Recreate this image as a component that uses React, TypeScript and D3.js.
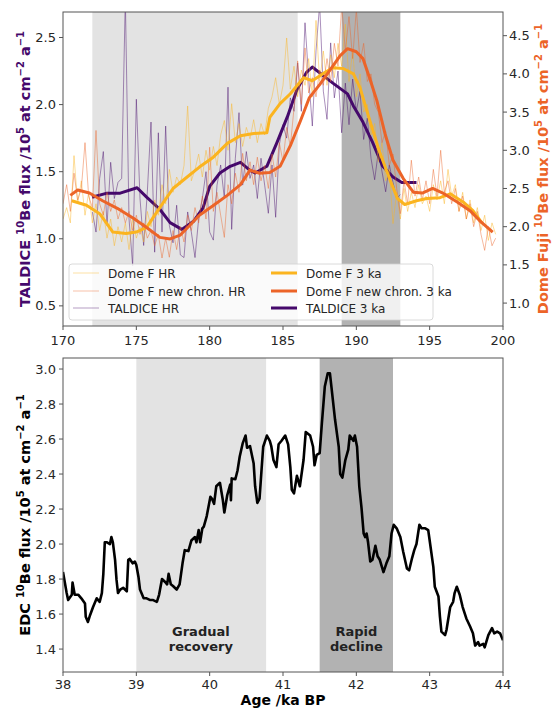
import React from "react";
import * as d3 from "d3";

// ---------- Top panel data ----------
const TOP_X_DOMAIN = [170, 200];
const LEFT_DOMAIN = [0.35, 2.69];
const RIGHT_DOMAIN = [0.7, 4.81];
const TOP_X_TICKS = [170, 175, 180, 185, 190, 195, 200];
const LEFT_TICKS = [0.5, 1.0, 1.5, 2.0, 2.5];
const RIGHT_TICKS = [1.0, 1.5, 2.0, 2.5, 3.0, 3.5, 4.0, 4.5];
const TOP_LIGHT_BAND = [172, 186];
const TOP_DARK_BAND = [189, 193];

const HR_STEP = 0.25;
const TALDICE_HR_START = 172;
const taldiceHR = [1.20,1.05,1.45,1.65,1.10,1.57,1.30,1.42,1.45,2.80,1.15,0.80,2.04,1.30,0.95,1.35,1.87,0.90,1.79,1.05,1.84,1.10,0.97,1.25,0.88,0.86,1.20,1.05,0.86,1.15,1.30,1.50,1.05,0.99,1.40,1.55,1.30,2.13,1.07,1.60,1.94,1.40,1.65,1.45,1.55,1.30,1.60,1.40,1.19,1.55,1.16,1.70,1.85,1.75,2.05,1.95,2.31,1.95,2.61,2.20,1.84,2.40,2.75,2.10,1.89,2.46,2.05,2.25,1.79,2.16,1.85,2.19,1.95,2.10,1.74,1.90,1.60,1.44,1.65,1.50,1.35,1.55,1.42,1.30,1.33];

const DOMEF_HR_START = 170;
const domeFHR = [2.10,2.25,2.05,2.93,2.30,2.60,2.15,2.45,2.05,2.30,1.95,2.20,1.85,2.10,1.75,2.00,1.80,2.05,1.70,2.10,1.85,2.00,1.80,2.20,2.00,2.35,2.15,2.55,2.30,2.75,2.45,2.65,2.55,2.80,3.58,2.60,2.75,2.95,2.65,3.00,2.74,3.05,2.80,3.20,3.39,3.00,3.61,3.10,3.35,3.05,3.30,3.15,3.40,3.10,3.35,3.20,3.55,3.70,3.95,3.60,3.85,4.47,3.80,4.10,3.70,4.05,3.85,4.20,3.70,4.70,3.90,4.30,3.85,4.25,3.95,4.40,4.10,4.65,3.90,4.30,3.70,4.00,3.50,3.60,3.20,3.35,2.85,3.10,2.60,2.75,2.04,2.45,2.10,2.50,2.20,2.45,2.25,2.55,2.30,2.40,2.20,2.55,2.35,2.60,2.30,2.75,2.40,2.55,2.20,2.45,2.10,2.35,2.05,2.25,1.95,2.15,1.82,2.05,1.90];

const NEWCHRON_HR_START = 170;
const newChronHR = [2.30,2.55,2.20,2.70,2.35,2.50,3.10,2.40,2.25,3.26,2.30,2.15,2.45,2.20,2.35,2.10,2.25,2.05,2.20,1.95,2.15,1.90,2.05,1.85,1.95,1.75,1.90,1.59,1.85,1.60,1.95,1.70,2.00,1.80,2.15,1.95,2.25,2.05,2.40,2.10,3.04,2.20,2.45,2.15,1.86,2.55,2.30,2.70,2.45,2.96,2.60,2.85,2.55,2.91,2.60,2.80,2.50,2.95,2.65,3.10,2.85,3.30,3.05,3.55,4.17,3.60,4.34,3.75,3.95,3.70,4.05,3.85,4.20,3.90,4.40,4.10,4.90,4.30,4.75,4.20,4.85,4.15,4.40,3.90,4.00,3.60,3.50,3.10,3.25,2.80,2.95,2.50,2.17,2.60,2.30,2.87,2.40,2.65,2.35,2.60,2.30,2.75,2.40,3.00,2.45,2.60,2.30,2.50,2.20,2.40,2.10,2.30,2.00,2.20,1.90,1.69,2.00,1.75,1.85];

// 3 ka smoothed series
const domeF3kaAge = [170.6,171.6,172.5,173.4,174.3,175.0,175.7,176.6,177.5,178.4,179.3,180.25,181.2,182.1,183.0,183.9,184.1,184.8,185.5,186.4,187.0,187.7,188.4,189.1,189.8,190.25,190.9,191.6,192.3,192.8,193.3,194.1,194.8,195.7,196.4,197.3,197.95,198.6];
const domeF3ka = [2.34,2.28,2.17,1.93,1.91,1.93,1.99,2.25,2.50,2.64,2.78,2.91,3.09,3.19,3.22,3.23,3.43,3.61,3.74,3.95,3.91,4.00,4.08,4.07,4.00,3.82,3.40,2.97,2.61,2.37,2.29,2.34,2.37,2.38,2.43,2.32,2.21,2.04];

const newChron3kaAge = [170.5,171.0,171.8,172.7,173.7,174.8,175.7,176.6,177.3,178.0,178.5,179.3,180.2,181.2,182.1,182.75,183.4,184.1,184.8,185.5,186.2,186.8,187.5,188.2,188.9,189.4,190.0,190.45,190.9,191.4,191.95,192.5,193.2,193.9,194.5,195.2,195.9,196.9,197.75,198.4,199.3];
const newChron3ka = [2.41,2.48,2.44,2.34,2.24,2.11,1.99,1.86,1.84,1.89,1.99,2.15,2.27,2.41,2.55,2.74,2.70,2.71,2.79,3.06,3.39,3.69,3.86,4.05,4.24,4.33,4.29,4.20,3.95,3.65,3.22,2.87,2.63,2.45,2.44,2.50,2.44,2.32,2.21,2.08,1.93];

const taldice3kaAge = [171.98,173.0,173.9,175.05,175.7,176.6,177.3,178.1,178.9,179.55,180.0,180.7,181.4,182.1,182.75,183.1,183.9,184.6,185.3,185.95,186.6,187.0,187.7,188.4,189.4,189.8,190.45,191.1,191.8,192.5,193.1,194.1];
const taldice3ka = [1.31,1.34,1.34,1.38,1.31,1.22,1.12,1.07,1.13,1.23,1.39,1.49,1.54,1.57,1.51,1.49,1.54,1.72,1.91,2.11,2.24,2.28,2.22,2.16,2.08,1.99,1.87,1.72,1.54,1.46,1.42,1.42];

// ---------- Bottom panel data ----------
const BOT_X_DOMAIN = [38, 44];
const BOT_Y_DOMAIN = [1.269, 3.063];
const BOT_X_TICKS = [38, 39, 40, 41, 42, 43, 44];
const BOT_Y_TICKS = [1.4, 1.6, 1.8, 2.0, 2.2, 2.4, 2.6, 2.8, 3.0];
const BOT_LIGHT_BAND = [39, 40.77];
const BOT_DARK_BAND = [41.5, 42.5];

const edcAge = [38.00,38.05,38.07,38.12,38.13,38.16,38.21,38.25,38.30,38.31,38.34,38.37,38.41,38.46,38.50,38.53,38.55,38.57,38.60,38.64,38.66,38.68,38.71,38.73,38.75,38.78,38.82,38.87,38.89,38.91,38.95,38.98,39.00,39.03,39.05,39.10,39.14,39.19,39.23,39.28,39.31,39.35,39.40,39.42,39.44,39.47,39.50,39.55,39.59,39.63,39.66,39.71,39.75,39.80,39.82,39.85,39.87,39.90,39.92,39.96,40.01,40.03,40.06,40.09,40.14,40.18,40.20,40.24,40.28,40.29,40.30,40.35,40.38,40.41,40.45,40.49,40.51,40.55,40.60,40.62,40.65,40.68,40.71,40.73,40.78,40.82,40.84,40.87,40.91,40.94,40.98,41.03,41.07,41.10,41.12,41.15,41.19,41.23,41.28,41.31,41.37,41.41,41.43,41.46,41.50,41.53,41.57,41.61,41.64,41.66,41.71,41.76,41.78,41.81,41.85,41.89,41.91,41.96,41.98,42.01,42.04,42.07,42.10,42.12,42.14,42.16,42.19,42.22,42.26,42.29,42.32,42.37,42.41,42.45,42.48,42.51,42.55,42.60,42.64,42.69,42.72,42.76,42.79,42.82,42.86,42.89,42.94,42.98,43.00,43.05,43.07,43.12,43.14,43.16,43.21,43.23,43.28,43.32,43.34,43.37,43.41,43.45,43.50,43.55,43.57,43.59,43.62,43.66,43.68,43.73,43.75,43.80,43.85,43.88,43.92,43.96,44.00];
const edcFlux = [1.84,1.72,1.68,1.71,1.78,1.71,1.71,1.69,1.66,1.585,1.555,1.595,1.64,1.69,1.67,1.72,1.83,2.01,2.01,2.00,2.04,2.01,1.91,1.795,1.72,1.74,1.75,1.73,1.91,1.915,1.89,1.90,1.88,1.81,1.74,1.69,1.69,1.68,1.68,1.67,1.71,1.80,1.78,1.77,1.83,1.77,1.76,1.74,1.77,1.89,1.965,1.96,2.02,2.04,2.01,2.08,2.01,2.09,2.10,2.16,2.27,2.26,2.23,2.33,2.35,2.25,2.18,2.28,2.34,2.25,2.375,2.37,2.42,2.50,2.575,2.62,2.55,2.56,2.46,2.33,2.235,2.26,2.44,2.556,2.62,2.59,2.56,2.48,2.44,2.57,2.59,2.62,2.57,2.44,2.31,2.29,2.39,2.33,2.48,2.64,2.62,2.556,2.45,2.51,2.52,2.69,2.90,2.975,2.975,2.90,2.71,2.556,2.40,2.38,2.48,2.54,2.62,2.59,2.62,2.556,2.33,2.21,2.06,2.04,2.06,2.01,1.90,1.91,1.99,1.93,1.91,1.84,1.89,1.93,2.06,2.11,2.09,2.04,1.955,1.86,1.85,1.92,1.965,2.00,2.11,2.09,2.09,2.08,2.02,1.87,1.756,1.70,1.585,1.50,1.48,1.51,1.64,1.67,1.72,1.756,1.71,1.64,1.575,1.53,1.51,1.49,1.42,1.44,1.42,1.43,1.41,1.48,1.52,1.49,1.50,1.49,1.45];

const LEGEND_LABELS = ["Dome F HR", "Dome F new chron. HR", "TALDICE HR", "Dome F 3 ka", "Dome F new chron. 3 ka", "TALDICE 3 ka"];

// ---------- Styling ----------
const C_DOMEF = "#fbb41f";
const C_NEW = "#ec6428";
const C_TAL = "#45096b";
const FONT = "DejaVu Sans";
const TICK_COLOR = "#262626";
const SPINE = "#555";
const LIGHT_GRAY = "#e3e3e3";
const DARK_GRAY = "#b2b2b2";

const L = 63, R = 503;
const T1 = 12, B1 = 326;
const T2 = 358, B2 = 672;

function YLabel({ x, y, parts, color }: any) {
  const nodes: any[] = [];
  let prevSup = false;
  parts.forEach((p: any, i: number) => {
    const [txt, sup] = p;
    let dy = 0;
    if (sup && !prevSup) dy = -6;
    if (!sup && prevSup) dy = 6;
    nodes.push(
      <tspan key={i} dy={dy} fontSize={sup ? 10 : 14.5}>{txt}</tspan>
    );
    prevSup = sup;
  });
  return (
    <text transform={`translate(${x},${y}) rotate(-90)`} textAnchor="middle" fontFamily={FONT} fontWeight="bold" fill={color}>
      {nodes}
    </text>
  );
}

const labelParts = (prefix: string) => [
  [prefix + " ", false],
  ["10", true],
  ["Be flux /10", false],
  ["5", true],
  [" at cm", false],
  ["\u22122", true],
  [" a", false],
  ["\u22121", true],
];

export default function App() {
  const x1 = d3.scaleLinear().domain(TOP_X_DOMAIN).range([L, R]);
  const yL = d3.scaleLinear().domain(LEFT_DOMAIN).range([B1, T1]);
  const yR = d3.scaleLinear().domain(RIGHT_DOMAIN).range([B1, T1]);
  const x2 = d3.scaleLinear().domain(BOT_X_DOMAIN).range([L, R]);
  const y2 = d3.scaleLinear().domain(BOT_Y_DOMAIN).range([B2, T2]);

  const hrLine = (vals: number[], start: number, y: any) =>
    d3.line<number>().x((_, i) => x1(start + i * HR_STEP)).y((v) => y(v))(vals) as string;
  const pairLine = (ages: number[], vals: number[], xs: any, ys: any) =>
    d3.line<number>().x((_, i) => xs(ages[i])).y((v) => ys(v))(vals) as string;

  const fmt1 = d3.format(".1f");

  const legendRows = [
    { label: LEGEND_LABELS[0], color: C_DOMEF, w: 1, op: 0.4 },
    { label: LEGEND_LABELS[1], color: C_NEW, w: 1, op: 0.4 },
    { label: LEGEND_LABELS[2], color: C_TAL, w: 1, op: 0.4 },
    { label: LEGEND_LABELS[3], color: C_DOMEF, w: 3, op: 1 },
    { label: LEGEND_LABELS[4], color: C_NEW, w: 3, op: 1 },
    { label: LEGEND_LABELS[5], color: C_TAL, w: 3, op: 1 },
  ];
  const legX = 69, legY = 264, legW = 364, legH = 56;
  const rowY = [273, 291, 308];
  const colX = [73, 271];

  return (
    <svg width={552} height={708} style={{ position: "absolute", left: 0, top: 0, background: "#fff" }} fontFamily={FONT}>
      <defs>
        <clipPath id="clipTop"><rect x={L} y={T1} width={R - L} height={B1 - T1} /></clipPath>
        <clipPath id="clipBot"><rect x={L} y={T2} width={R - L} height={B2 - T2} /></clipPath>
      </defs>

      {/* ===== Top panel ===== */}
      <rect x={x1(TOP_LIGHT_BAND[0])} y={T1} width={x1(TOP_LIGHT_BAND[1]) - x1(TOP_LIGHT_BAND[0])} height={B1 - T1} fill={LIGHT_GRAY} />
      <rect x={x1(TOP_DARK_BAND[0])} y={T1} width={x1(TOP_DARK_BAND[1]) - x1(TOP_DARK_BAND[0])} height={B1 - T1} fill={DARK_GRAY} />
      <g clipPath="url(#clipTop)" fill="none" strokeLinejoin="round">
        <path d={hrLine(taldiceHR, TALDICE_HR_START, yL)} stroke={C_TAL} strokeWidth={1} strokeOpacity={0.45} />
        <path d={pairLine(taldice3kaAge, taldice3ka, x1, yL)} stroke={C_TAL} strokeWidth={3} />
        <path d={hrLine(domeFHR, DOMEF_HR_START, yR)} stroke={C_DOMEF} strokeWidth={1} strokeOpacity={0.45} />
        <path d={hrLine(newChronHR, NEWCHRON_HR_START, yR)} stroke={C_NEW} strokeWidth={1} strokeOpacity={0.45} />
        <path d={pairLine(domeF3kaAge, domeF3ka, x1, yR)} stroke={C_DOMEF} strokeWidth={3} />
        <path d={pairLine(newChron3kaAge, newChron3ka, x1, yR)} stroke={C_NEW} strokeWidth={3} />
      </g>

      {/* legend */}
      <rect x={legX} y={legY} width={legW} height={legH} rx={3} fill="#fff" fillOpacity={0.8} stroke="#d0d0d0" strokeWidth={0.8} />
      {legendRows.map((r, i) => {
        const cx = colX[Math.floor(i / 3)];
        const cy = rowY[i % 3];
        return (
          <g key={i}>
            <line x1={cx} x2={cx + 26} y1={cy} y2={cy} stroke={r.color} strokeWidth={r.w} strokeOpacity={r.op} />
            <text x={cx + 35} y={cy + 4.5} fontSize={12} fill={TICK_COLOR}>{r.label}</text>
          </g>
        );
      })}

      {/* spines */}
      <rect x={L} y={T1} width={R - L} height={B1 - T1} fill="none" stroke={SPINE} strokeWidth={1} />
      {TOP_X_TICKS.map((t) => (
        <g key={"tx" + t}>
          <line x1={x1(t)} x2={x1(t)} y1={B1} y2={B1 + 4} stroke={SPINE} />
          <text x={x1(t)} y={B1 + 19} textAnchor="middle" fontSize={13} fill={TICK_COLOR}>{t}</text>
        </g>
      ))}
      {LEFT_TICKS.map((t) => (
        <g key={"tl" + t}>
          <line x1={L - 4} x2={L} y1={yL(t)} y2={yL(t)} stroke={SPINE} />
          <text x={L - 7} y={yL(t) + 4.5} textAnchor="end" fontSize={13} fill={TICK_COLOR}>{fmt1(t)}</text>
        </g>
      ))}
      {RIGHT_TICKS.map((t) => (
        <g key={"tr" + t}>
          <line x1={R} x2={R + 4} y1={yR(t)} y2={yR(t)} stroke={SPINE} />
          <text x={R + 6} y={yR(t) + 4.5} textAnchor="start" fontSize={13} fill={TICK_COLOR}>{fmt1(t)}</text>
        </g>
      ))}
      <YLabel x={30} y={(T1 + B1) / 2} parts={labelParts("TALDICE")} color={C_TAL} />
      <YLabel x={548} y={(T1 + B1) / 2} parts={labelParts("Dome Fuji")} color={C_NEW} />

      {/* ===== Bottom panel ===== */}
      <rect x={x2(BOT_LIGHT_BAND[0])} y={T2} width={x2(BOT_LIGHT_BAND[1]) - x2(BOT_LIGHT_BAND[0])} height={B2 - T2} fill={LIGHT_GRAY} />
      <rect x={x2(BOT_DARK_BAND[0])} y={T2} width={x2(BOT_DARK_BAND[1]) - x2(BOT_DARK_BAND[0])} height={B2 - T2} fill={DARK_GRAY} />
      <g clipPath="url(#clipBot)">
        <path d={pairLine(edcAge, edcFlux, x2, y2)} fill="none" stroke="#000" strokeWidth={2.6} strokeLinejoin="round" />
      </g>
      <text x={x2(39.88)} y={636} textAnchor="middle" fontSize={13} fontWeight="bold" fill="#222">Gradual</text>
      <text x={x2(39.88)} y={651} textAnchor="middle" fontSize={13} fontWeight="bold" fill="#222">recovery</text>
      <text x={x2(42.0)} y={636} textAnchor="middle" fontSize={13} fontWeight="bold" fill="#222">Rapid</text>
      <text x={x2(42.0)} y={651} textAnchor="middle" fontSize={13} fontWeight="bold" fill="#222">decline</text>

      <rect x={L} y={T2} width={R - L} height={B2 - T2} fill="none" stroke={SPINE} strokeWidth={1} />
      {BOT_X_TICKS.map((t) => (
        <g key={"bx" + t}>
          <line x1={x2(t)} x2={x2(t)} y1={B2} y2={B2 + 4} stroke={SPINE} />
          <text x={x2(t)} y={B2 + 17} textAnchor="middle" fontSize={13} fill={TICK_COLOR}>{t}</text>
        </g>
      ))}
      {BOT_Y_TICKS.map((t) => (
        <g key={"by" + t}>
          <line x1={L - 4} x2={L} y1={y2(t)} y2={y2(t)} stroke={SPINE} />
          <text x={L - 7} y={y2(t) + 4.5} textAnchor="end" fontSize={13} fill={TICK_COLOR}>{fmt1(t)}</text>
        </g>
      ))}
      <YLabel x={30} y={(T2 + B2) / 2} parts={labelParts("EDC")} color="#000" />
      <text x={(L + R) / 2} y={705} textAnchor="middle" fontSize={14} fontWeight="bold" fill="#000">Age /ka BP</text>
    </svg>
  );
}
